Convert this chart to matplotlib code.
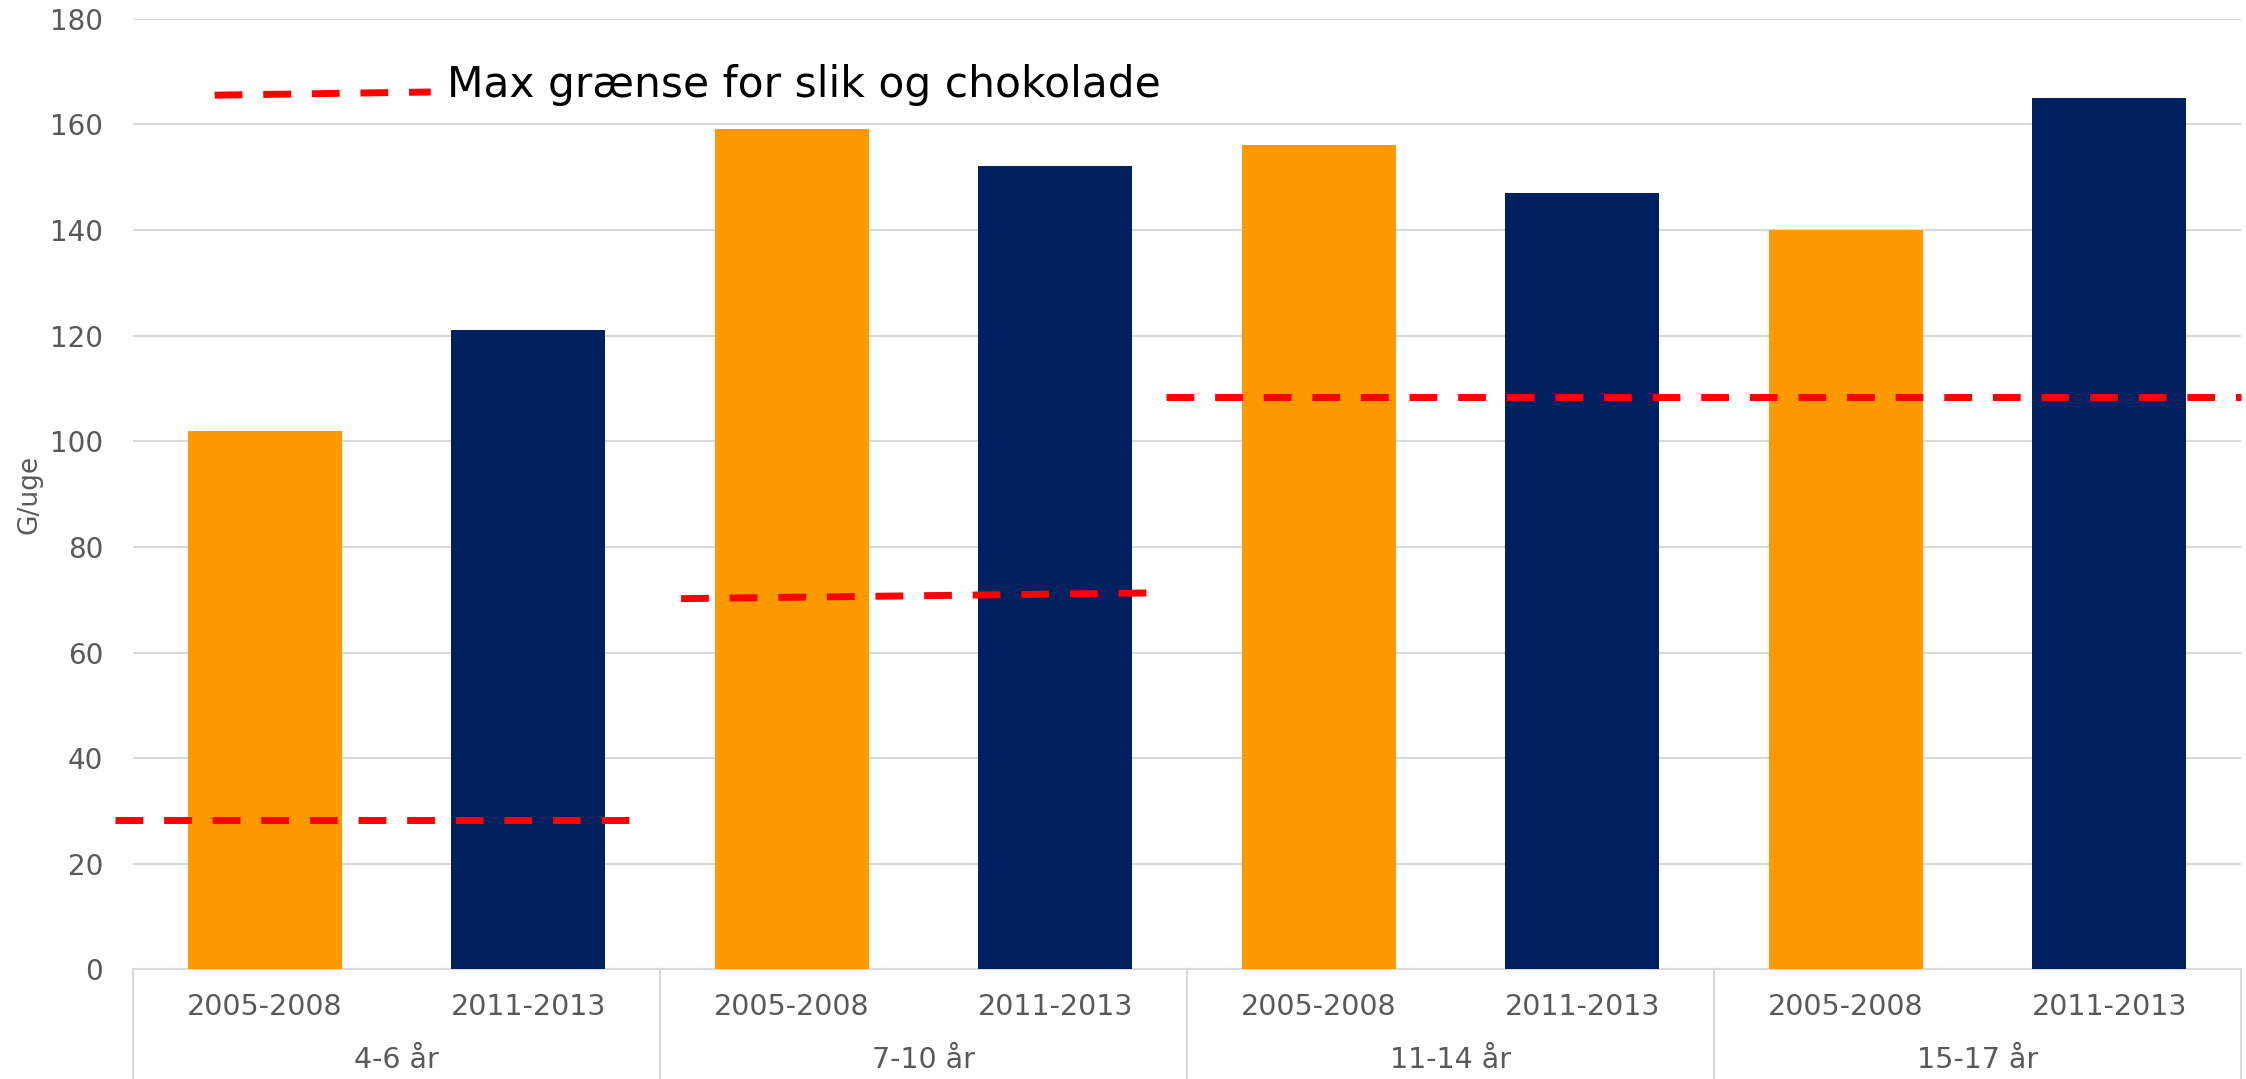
import matplotlib
matplotlib.use("Agg")
import matplotlib.pyplot as plt
import matplotlib.transforms as mtransforms

# periods and age groups
periods = ["2005-2008", "2011-2013", "2005-2008", "2011-2013",
           "2005-2008", "2011-2013", "2005-2008", "2011-2013"]
age_groups = ["4-6 år", "7-10 år", "11-14 år", "15-17 år"]
values = [102, 121, 159, 152, 156, 147, 140, 165]

# max limit for candy and chocolate per age group (x start/end, y start/end)
limit_x = [[-0.57, 1.40], [1.58, 3.40], [3.42, 7.5]]
limit_y = [[28.3, 28.3], [70.2, 71.3], [108.4, 108.4]]

# hand-drawn legend sample
legend_x = [-0.19, 0.63]
legend_y = [165.5, 166.1]
legend_text = "Max grænse for slik og chokolade"

orange = "#FF9900"
navy = "#002060"
grey = "#595959"
grid = "#D9D9D9"

plt.rcParams['font.family'] = ['DejaVu Sans']

fig = plt.figure(figsize=(22.46, 10.79), dpi=100)
ax = fig.add_axes([0.0592, 0.1015, 0.9386, 0.8813])

xs = list(range(len(values)))
colors = [orange if i % 2 == 0 else navy for i in xs]
ax.bar(xs, values, width=0.585, color=colors, zorder=2)

for lx, ly in zip(limit_x, limit_y):
    ln, = ax.plot(lx, ly, color="#FF0000", lw=5, zorder=3, clip_on=False,
                  dash_capstyle="butt")
    ln.set_dashes((4, 3))

ln, = ax.plot(legend_x, legend_y, color="#FF0000", lw=5, zorder=3,
              dash_capstyle="butt")
ln.set_dashes((4, 3))
ax.text(0.69, 165.2, legend_text, fontsize=30.5, color="black",
        va="baseline", ha="left")

ax.set_xlim(-0.5, 7.5)
ax.set_ylim(0, 180)
ax.set_yticks(range(0, 181, 20))
ax.yaxis.grid(True, color=grid, lw=1.5, zorder=0)
ax.set_axisbelow(True)
for s in ax.spines.values():
    s.set_visible(False)
ax.tick_params(axis="y", length=0, pad=21.5, labelsize=20, labelcolor=grey)
ax.set_xticks([])

ax.set_ylabel("G/uge", fontsize=19, color=grey)
ax.yaxis.set_label_coords(-0.043, 0.5)

# two-level category axis
trans = mtransforms.blended_transform_factory(ax.transData, ax.transAxes)
for i, p in enumerate(periods):
    ax.text(i, -0.0394, p, transform=trans, ha="center", va="center",
            fontsize=20.5, color=grey)
for g, name in enumerate(age_groups):
    ax.text(2 * g + 0.5, -0.095, name, transform=trans, ha="center",
            va="center", fontsize=20.5, color=grey)
for b in [-0.5, 1.5, 3.5, 5.5, 7.5]:
    ax.plot([b, b], [0, -0.15], transform=trans, color=grid, lw=1.5,
            clip_on=False, zorder=1)
ax.plot([-0.5, 7.5], [0, 0], transform=trans, color=grid, lw=1.5,
        clip_on=False, zorder=1)

fig.savefig("out.png", dpi=100)
